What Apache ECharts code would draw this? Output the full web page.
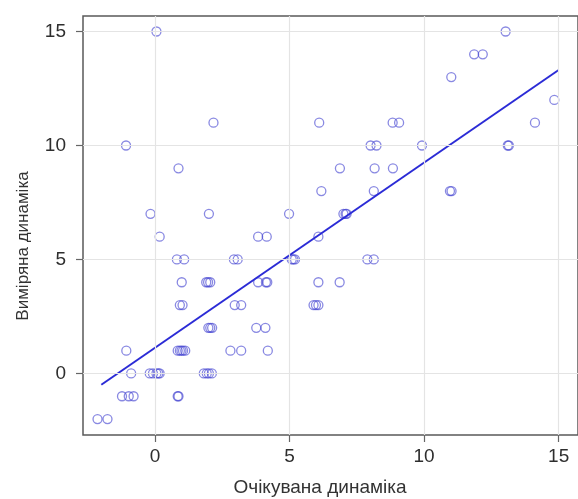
<!DOCTYPE html>
<html>
<head>
<meta charset="utf-8">
<script src="https://cdn.jsdelivr.net/npm/echarts@6/dist/echarts.min.js"></script>
<style>
  html, body { margin: 0; padding: 0; background: #ffffff; }
  #chart { width: 578px; height: 499px; }
</style>
</head>
<body>
<div id="chart"></div>
<script>
// Expected (x) vs measured (y) dynamics; x carries a small jitter.
const expectedX = [
  0.05, 13.03,
  11.86, 12.18,
  11.01,
  14.84,
  2.17, 6.10, 8.83, 9.07, 14.12,
  -1.08, 8.01, 8.23, 9.92, 13.11, 13.15,
  0.87, 6.87, 8.16, 8.84,
  6.18, 8.13, 10.96, 11.02,
  -0.17, 2.00, 4.98, 7.00, 7.08, 7.12,
  0.17, 3.83, 4.15, 6.07,
  0.81, 1.08, 2.93, 3.07, 5.08, 5.14, 5.20, 7.89, 8.13,
  0.99, 1.90, 1.97, 2.05, 3.83, 4.12, 4.17, 6.07, 6.86,
  0.92, 1.02, 2.96, 3.20, 5.89, 5.98, 6.07,
  1.98, 2.05, 2.12, 3.76, 4.10,
  -1.07, 0.84, 0.92, 0.98, 1.04, 1.12, 2.80, 3.20, 4.19,
  -0.89, -0.20, -0.08, 0.05, 0.12, 0.17, 1.81, 1.92, 2.00, 2.11,
  -1.23, -0.98, -0.80, 0.84, 0.87,
  -2.14, -1.77
];
const measuredY = [
  15, 15,
  14, 14,
  13,
  12,
  11, 11, 11, 11, 11,
  10, 10, 10, 10, 10, 10,
  9, 9, 9, 9,
  8, 8, 8, 8,
  7, 7, 7, 7, 7, 7,
  6, 6, 6, 6,
  5, 5, 5, 5, 5, 5, 5, 5, 5,
  4, 4, 4, 4, 4, 4, 4, 4, 4,
  3, 3, 3, 3, 3, 3, 3,
  2, 2, 2, 2, 2,
  1, 1, 1, 1, 1, 1, 1, 1, 1,
  0, 0, 0, 0, 0, 0, 0, 0, 0, 0,
  -1, -1, -1, -1, -1,
  -2, -2
];

// Fitted regression line and the x range it spans
const fitIntercept = 1.13;
const fitSlope = 0.812;
const fitRange = [-2, 15];

// Axis ticks
const xTicks = [0, 5, 10, 15];
const yTicks = [0, 5, 10, 15];
const xRange = [-2.68, 15.72];
const yRange = [-2.7, 15.68];

const xTitle = 'Очікувана динаміка';
const yTitle = 'Виміряна динаміка';

const points = expectedX.map((x, i) => [x, measuredY[i]]);
const fitLine = fitRange.map(x => [x, fitIntercept + fitSlope * x]);

const font = '"Liberation Sans", Arial, sans-serif';
const gridColor = '#e4e4e4';

const chart = echarts.init(document.getElementById('chart'), null, { renderer: 'canvas' });

const axisCommon = {
  type: 'value',
  splitLine: { show: false },
  axisLine: { show: false, onZero: false },
  axisTick: { show: true, length: 7, lineStyle: { color: '#666', width: 1.2 } },
  axisLabel: { color: '#2e2e2e', fontSize: 19, fontFamily: font }
};

chart.setOption({
  backgroundColor: '#ffffff',
  animation: false,
  grid: {
    left: 83, top: 16, right: -10, bottom: 64,
    show: true, borderColor: '#5a5a5a', borderWidth: 1.5, backgroundColor: '#ffffff'
  },
  xAxis: Object.assign({}, axisCommon, {
    min: xRange[0], max: xRange[1],
    axisTick: Object.assign({}, axisCommon.axisTick, { customValues: xTicks }),
    axisLabel: Object.assign({}, axisCommon.axisLabel, { customValues: xTicks, margin: 12 })
  }),
  yAxis: Object.assign({}, axisCommon, {
    min: yRange[0], max: yRange[1],
    axisTick: Object.assign({}, axisCommon.axisTick, { customValues: yTicks }),
    axisLabel: Object.assign({}, axisCommon.axisLabel, { customValues: yTicks, margin: 17 })
  }),
  graphic: [
    {
      type: 'text', x: 320, y: 488,
      style: { text: xTitle, fill: '#333', font: '19px ' + font, textAlign: 'center', textVerticalAlign: 'middle' }
    },
    {
      type: 'text', x: 23, y: 246, rotation: Math.PI / 2,
      style: { text: yTitle, fill: '#333', font: '17px ' + font, textAlign: 'center', textVerticalAlign: 'middle' }
    }
  ],
  series: [
    {
      // reference grid lines at the tick positions
      type: 'line', data: [], silent: true, z: 1,
      markLine: {
        silent: true, symbol: ['none', 'none'], label: { show: false },
        lineStyle: { color: gridColor, width: 1.2, type: 'solid' },
        data: xTicks.map(v => ({ xAxis: v })).concat(yTicks.map(v => ({ yAxis: v })))
      }
    },
    {
      type: 'scatter', data: points, symbol: 'circle', symbolSize: 9, z: 3,
      itemStyle: { color: 'rgba(0,0,0,0)', borderColor: 'rgba(70,70,210,0.8)', borderWidth: 1.3 }
    },
    {
      type: 'line', data: fitLine, showSymbol: false, z: 4,
      lineStyle: { color: '#2b2bd6', width: 2 }
    }
  ]
});
</script>
</body>
</html>
